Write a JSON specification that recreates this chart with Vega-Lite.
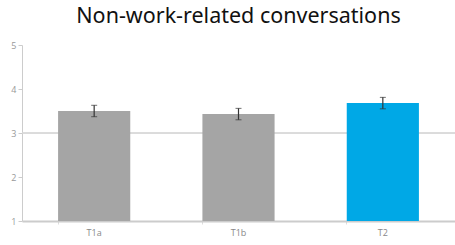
{
  "$schema": "https://vega.github.io/schema/vega-lite/v6.json",
  "autosize": "none",
  "width": 433,
  "height": 176,
  "padding": {"left": 22, "top": 45, "right": 0, "bottom": 24},
  "background": "white",
  "config": {"view": {"stroke": null}},
  "title": {"text": "Non-work-related conversations", "fontSize": 21.5, "font": "Noto Sans", "fontWeight": "normal", "color": "#111111", "offset": 14, "anchor": "middle"},
  "data": {"values": [
    {"group": "T1a", "mean": 3.5, "lo": 3.37, "hi": 3.63, "hl": "no"},
    {"group": "T1b", "mean": 3.43, "lo": 3.3, "hi": 3.56, "hl": "no"},
    {"group": "T2", "mean": 3.68, "lo": 3.55, "hi": 3.81, "hl": "yes"}
  ]},
  "encoding": {
    "x": {"field": "group", "type": "nominal", "sort": null,
      "scale": {"paddingInner": 0.5, "paddingOuter": 0.25},
      "axis": {"title": null, "labelAngle": 0, "labelColor": "#888888", "labelFontSize": 9, "labelFont": "Open Sans", "domainColor": "#cccccc", "domainWidth": 2, "tickColor": "#dddddd", "tickSize": 3, "labelPadding": 4, "bandPosition": 0}}
  },
  "layer": [
    {
      "mark": {"type": "rule", "color": "#d6d6d6", "strokeWidth": 1},
      "encoding": {"y": {"datum": 3, "type": "quantitative"}, "x": {"value": 0}, "x2": {"value": 433}}
    },
    {
      "mark": {"type": "bar"},
      "encoding": {
        "y": {"field": "mean", "type": "quantitative",
          "scale": {"domain": [1, 5], "nice": false, "zero": false},
          "axis": {"title": null, "values": [1, 2, 3, 4, 5], "labelColor": "#999999", "labelFontSize": 9, "labelFont": "Open Sans", "domainColor": "#cccccc", "tickColor": "#cccccc", "tickSize": 4, "labelPadding": 2, "grid": false}},
        "y2": {"datum": 1},
        "color": {"field": "hl", "type": "nominal", "scale": {"domain": ["no", "yes"], "range": ["#a5a5a5", "#00a8e6"]}, "legend": null}
      }
    },
    {
      "mark": {"type": "rule", "color": "#333333", "strokeWidth": 1.2},
      "encoding": {
        "y": {"field": "lo", "type": "quantitative"},
        "y2": {"field": "hi"}
      }
    },
    {
      "mark": {"type": "tick", "color": "#333333", "size": 6, "thickness": 1},
      "encoding": {"y": {"field": "lo", "type": "quantitative"}}
    },
    {
      "mark": {"type": "tick", "color": "#333333", "size": 6, "thickness": 1},
      "encoding": {"y": {"field": "hi", "type": "quantitative"}}
    }
  ]
}
